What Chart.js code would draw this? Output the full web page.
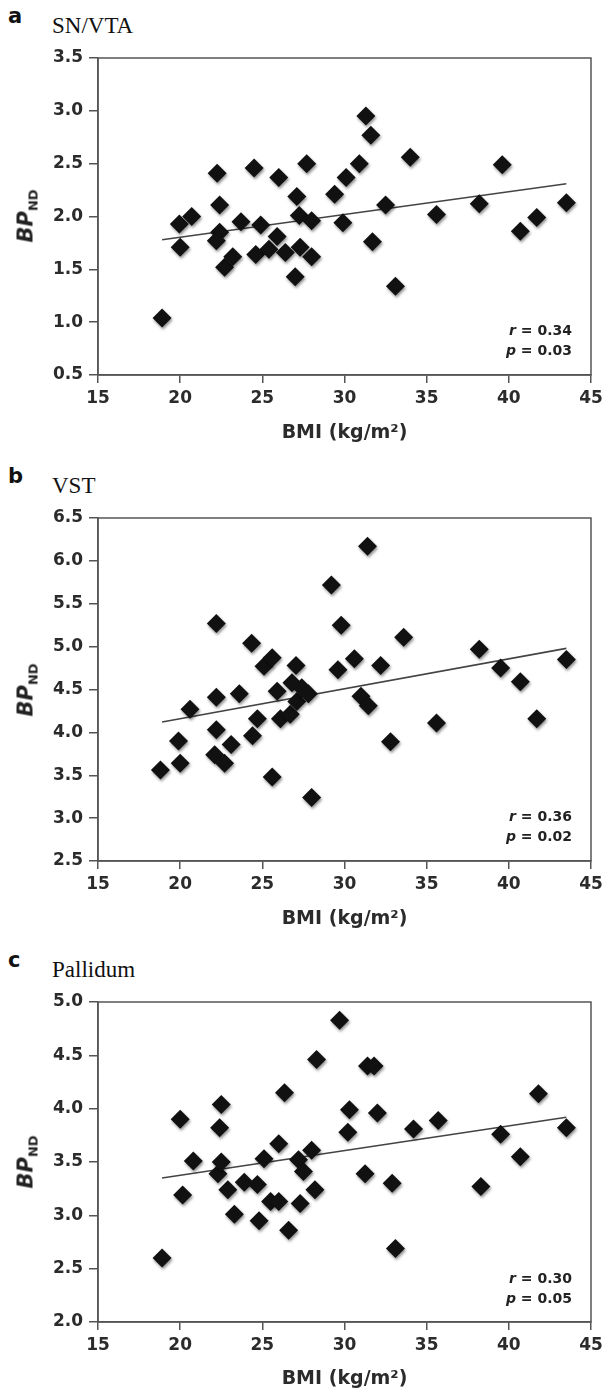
<!DOCTYPE html>
<html><head><meta charset="utf-8">
<script src="https://cdn.jsdelivr.net/npm/chart.js@4.4.1/dist/chart.umd.min.js"></script>
<style>
html,body{margin:0;padding:0;background:#fff;}
body{width:615px;height:1391px;position:relative;overflow:hidden;font-family:"DejaVu Sans",sans-serif;}
canvas{position:absolute;left:0;}
.lab{position:absolute;font-family:"DejaVu Sans",sans-serif;font-weight:bold;font-size:21px;line-height:1;color:#111;}
.ttl{position:absolute;font-family:"Liberation Serif","Times New Roman",serif;font-size:23px;line-height:1;color:#111;}
.yt{position:absolute;transform:translate(-50%,-50%) rotate(-90deg);font-family:"DejaVu Sans",sans-serif;font-weight:bold;font-size:21px;line-height:1;color:#222;white-space:nowrap;}
.yt i{font-style:italic;}
.yt span{font-size:13px;position:relative;top:5px;}
.stat{position:absolute;right:43px;font-family:"DejaVu Sans",sans-serif;font-weight:bold;font-size:14px;color:#222;line-height:20px;text-align:right;white-space:nowrap;}
</style></head>
<body>
<div class="lab" style="left:8px;top:6px;">a</div>
<div class="ttl" style="left:52px;top:14px;">SN/VTA</div>
<div class="lab" style="left:8px;top:466px;">b</div>
<div class="ttl" style="left:52px;top:474px;">VST</div>
<div class="lab" style="left:8px;top:950px;">c</div>
<div class="ttl" style="left:52px;top:958px;">Pallidum</div>

<canvas id="ca" width="615" height="445" style="top:0px"></canvas>
<canvas id="cb" width="615" height="486" style="top:445px"></canvas>
<canvas id="cc" width="615" height="460" style="top:931px"></canvas>

<div class="yt" style="left:26px;top:216px;"><i>BP</i><span>ND</span></div>
<div class="yt" style="left:26px;top:690px;"><i>BP</i><span>ND</span></div>
<div class="yt" style="left:26px;top:1162px;"><i>BP</i><span>ND</span></div>

<div class="stat" style="top:320px;"><i>r</i> = 0.34<br><i>p</i> = 0.03</div>
<div class="stat" style="top:806px;"><i>r</i> = 0.36<br><i>p</i> = 0.02</div>
<div class="stat" style="top:1268px;"><i>r</i> = 0.30<br><i>p</i> = 0.05</div>

<script>
// ---- data ----
const xTicks = [15, 20, 25, 30, 35, 40, 45];

const snvtaBMI = [18.9, 19.95, 20.0, 20.7, 22.25, 22.4, 22.4, 22.2, 22.7, 23.2, 23.7, 24.5, 24.6, 24.9, 25.4, 25.9, 26.0, 26.4, 27.0, 27.1, 27.25, 27.3, 27.7, 28.0, 28.0, 29.4, 29.9, 30.1, 30.9, 31.3, 31.6, 31.7, 32.5, 33.1, 34.0, 35.6, 38.2, 39.6, 40.7, 41.7, 43.5];
const snvtaBP  = [1.04, 1.93, 1.71, 2.00, 2.41, 2.11, 1.85, 1.77, 1.52, 1.62, 1.95, 2.46, 1.64, 1.92, 1.69, 1.81, 2.37, 1.66, 1.43, 2.19, 2.01, 1.71, 2.50, 1.96, 1.62, 2.21, 1.94, 2.37, 2.50, 2.95, 2.77, 1.76, 2.11, 1.34, 2.56, 2.02, 2.12, 2.49, 1.86, 1.99, 2.13];
const snvtaFitX = [18.9, 43.5];
const snvtaFitY = [1.78, 2.31];
const snvtaYTicks = [0.5, 1.0, 1.5, 2.0, 2.5, 3.0, 3.5];

const vstBMI = [18.8, 20.0, 19.9, 20.6, 22.1, 22.2, 22.2, 22.2, 22.7, 23.1, 23.6, 24.35, 24.4, 24.7, 25.1, 25.6, 25.6, 25.9, 26.1, 26.7, 26.8, 27.05, 27.1, 27.4, 27.8, 28.0, 29.2, 29.6, 29.8, 30.6, 31.0, 31.4, 31.45, 32.2, 32.8, 33.6, 35.6, 38.2, 39.5, 40.7, 41.7, 43.5];
const vstBP  = [3.56, 3.64, 3.90, 4.27, 3.74, 4.03, 4.41, 5.27, 3.64, 3.86, 4.45, 5.04, 3.96, 4.16, 4.77, 4.87, 3.48, 4.48, 4.16, 4.21, 4.58, 4.78, 4.36, 4.52, 4.45, 3.24, 5.72, 4.73, 5.25, 4.86, 4.42, 6.17, 4.31, 4.78, 3.89, 5.11, 4.11, 4.97, 4.75, 4.59, 4.16, 4.85];
const vstFitX = [18.9, 43.5];
const vstFitY = [4.12, 4.98];
const vstYTicks = [2.5, 3.0, 3.5, 4.0, 4.5, 5.0, 5.5, 6.0, 6.5];

const pallBMI = [18.9, 20.0, 20.15, 20.8, 22.3, 22.4, 22.5, 22.5, 22.9, 23.3, 23.9, 24.7, 24.8, 25.1, 25.5, 26.0, 26.0, 26.35, 26.6, 27.2, 27.3, 27.5, 28.0, 28.2, 28.3, 29.7, 30.2, 30.3, 31.25, 31.4, 31.8, 32.0, 32.9, 33.1, 34.2, 35.7, 38.3, 39.5, 40.7, 41.8, 43.5];
const pallBP  = [2.60, 3.90, 3.19, 3.51, 3.39, 3.82, 4.04, 3.50, 3.24, 3.01, 3.31, 3.29, 2.95, 3.53, 3.13, 3.13, 3.67, 4.15, 2.86, 3.52, 3.11, 3.41, 3.61, 3.24, 4.46, 4.83, 3.78, 3.99, 3.39, 4.40, 4.40, 3.96, 3.30, 2.69, 3.81, 3.89, 3.27, 3.76, 3.55, 4.14, 3.82];
const pallFitX = [18.9, 43.5];
const pallFitY = [3.35, 3.92];
const pallYTicks = [2.0, 2.5, 3.0, 3.5, 4.0, 4.5, 5.0];

// ---- drawing ----
const AXIS = '#555';
const TXT = '#2b2b2b';
const tickFont = {family: 'DejaVu Sans', size: 17, weight: 'bold'};

const framePlugin = {
  id: 'frame',
  afterDraw(chart) {
    const {ctx, chartArea: a} = chart;
    ctx.save();
    ctx.strokeStyle = AXIS;
    ctx.lineWidth = 1.5;
    ctx.strokeRect(a.left, a.top, a.right - a.left, a.bottom - a.top);
    ctx.restore();
  }
};
const shadowPlugin = {
  id: 'pshadow',
  beforeDatasetDraw(chart, args) {
    if (args.index !== 0) return;
    const ctx = chart.ctx;
    ctx.save();
    ctx.shadowColor = 'rgba(0,0,0,0.45)';
    ctx.shadowBlur = 3;
    ctx.shadowOffsetX = 1;
    ctx.shadowOffsetY = 2;
  },
  afterDatasetDraw(chart, args) {
    if (args.index !== 0) return;
    chart.ctx.restore();
  }
};

function makeChart(id, bmi, bp, fitX, fitY, yTicks, padTop, xAxisH) {
  const pts = bmi.map((x, i) => ({x: x, y: bp[i]}));
  const fit = fitX.map((x, i) => ({x: x, y: fitY[i]}));
  return new Chart(document.getElementById(id), {
    type: 'scatter',
    data: {
      datasets: [
        {data: pts, pointStyle: 'rectRot', pointRadius: 9.5, pointHoverRadius: 9.5,
         backgroundColor: '#111', borderWidth: 0, order: 0},
        {type: 'line', data: fit, borderColor: '#444', borderWidth: 1.6, pointRadius: 0,
         fill: false, order: 1}
      ]
    },
    options: {
      responsive: false,
      devicePixelRatio: 1,
      animation: false,
      events: [],
      layout: {padding: {top: padTop, right: 24, left: 0, bottom: 0}},
      plugins: {legend: {display: false}, tooltip: {enabled: false}},
      scales: {
        x: {
          type: 'linear', min: xTicks[0], max: xTicks[xTicks.length - 1],
          afterBuildTicks: s => { s.ticks = xTicks.map(v => ({value: v})); },
          afterFit: s => { s.height = xAxisH; },
          grid: {drawOnChartArea: false, drawTicks: true, tickLength: 8, color: AXIS, lineWidth: 1.5},
          border: {display: true, color: AXIS, width: 1.5},
          ticks: {font: tickFont, color: TXT, padding: 5, maxRotation: 0, callback: v => String(v)},
          title: {display: true, text: 'BMI (kg/m²)', font: {family: 'DejaVu Sans', size: 19, weight: 'bold'},
                  color: TXT, padding: {top: 0, bottom: 1}}
        },
        y: {
          type: 'linear', min: yTicks[0], max: yTicks[yTicks.length - 1],
          afterBuildTicks: s => { s.ticks = yTicks.map(v => ({value: v})); },
          afterFit: s => { s.width = 98; },
          grid: {drawOnChartArea: false, drawTicks: true, tickLength: 9, color: AXIS, lineWidth: 1.5},
          border: {display: true, color: AXIS, width: 1.5},
          ticks: {font: tickFont, color: TXT, padding: 6, callback: v => Number(v).toFixed(1)}
        }
      }
    },
    plugins: [framePlugin, shadowPlugin]
  });
}

makeChart('ca', snvtaBMI, snvtaBP, snvtaFitX, snvtaFitY, snvtaYTicks, 58, 70);
makeChart('cb', vstBMI, vstBP, vstFitX, vstFitY, vstYTicks, 73, 70);
makeChart('cc', pallBMI, pallBP, pallFitX, pallFitY, pallYTicks, 71, 69);
</script>
</body></html>
